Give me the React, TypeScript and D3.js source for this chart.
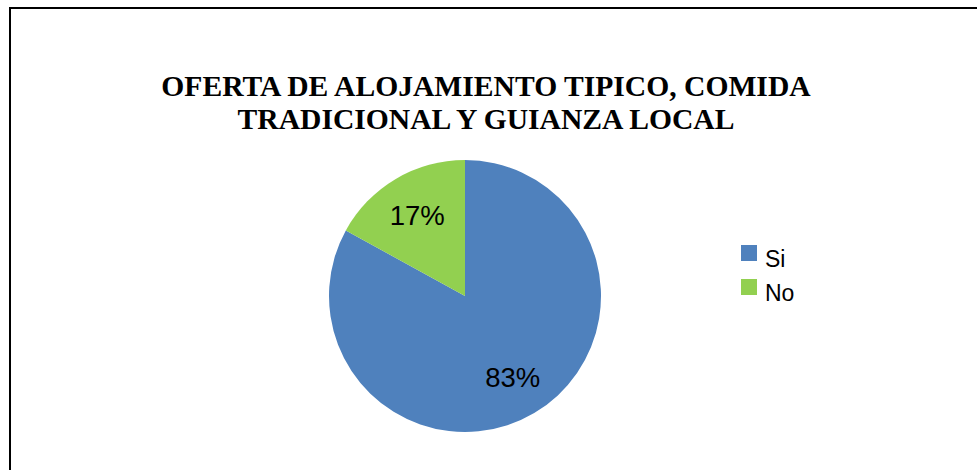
import React from "react";
import * as d3 from "d3";

const categories = ["Si", "No"];
const values = [83, 17];
const colors = ["#4F81BD", "#92D050"];
const titleLines = ["OFERTA DE ALOJAMIENTO TIPICO, COMIDA", "TRADICIONAL Y GUIANZA LOCAL"];

export default function App() {
  const W = 977, H = 470;
  const cx = 465, cy = 296, R = 136;
  const total = d3.sum(values);
  const pie = d3.pie<number>().sort(null).value((d) => d);
  const arcs = pie(values);
  const arc = d3.arc<d3.PieArcDatum<number>>().innerRadius(0).outerRadius(R);
  const labelArc = d3.arc<d3.PieArcDatum<number>>().innerRadius(R * 0.69).outerRadius(R * 0.69);
  return (
    <svg width={W} height={H} style={{ position: "absolute", left: 0, top: 0 }}>
      <rect x={0} y={0} width={W} height={H} fill="#fff" />
      <rect x={10} y={8} width={W + 20} height={H + 20} fill="none" stroke="#000" strokeWidth={2} />
      {titleLines.map((t, i) => (
        <text key={i} x={486} y={96 + i * 33} textAnchor="middle"
          fontFamily="'Liberation Serif', 'Times New Roman', serif" fontWeight="bold" fontSize={29.6} fill="#000">
          {t}
        </text>
      ))}
      <g transform={`translate(${cx},${cy})`}>
        {arcs.map((a, i) => (
          <path key={i} d={arc(a) || ""} fill={colors[i]} />
        ))}
        {arcs.map((a, i) => {
          const [x, y] = labelArc.centroid(a);
          return (
            <text key={i} x={x} y={y} dy="0.36em" textAnchor="middle"
              fontFamily="'Liberation Sans', Arial, sans-serif" fontSize={27.5} fill="#000">
              {`${Math.round((values[i] / total) * 100)}%`}
            </text>
          );
        })}
      </g>
      {categories.map((c, i) => (
        <g key={c} transform={`translate(741,${245 + i * 34})`}>
          <rect x={0} y={0} width={16} height={16} fill={colors[i]} />
          <text x={24} y={16 + 6} fontFamily="'Liberation Sans', Arial, sans-serif" fontSize={23} fill="#000">
            {c}
          </text>
        </g>
      ))}
    </svg>
  );
}
